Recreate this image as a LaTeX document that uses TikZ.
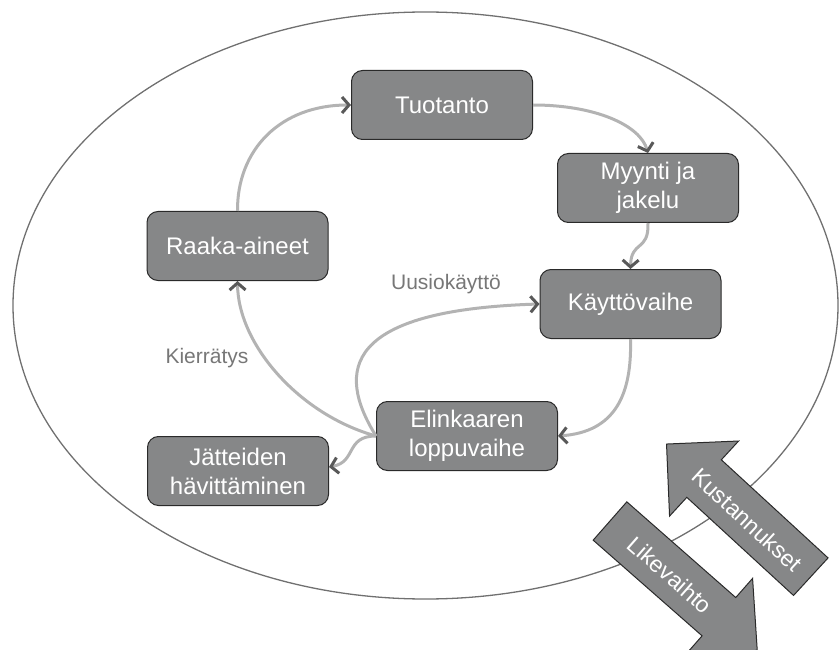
\documentclass[tikz,border=0pt]{standalone}
\usepackage{fontspec}
\setmainfont{Liberation Sans}
\usetikzlibrary{arrows.meta}
\definecolor{boxfill}{HTML}{868788}
\definecolor{boxline}{HTML}{2A2A2A}
\definecolor{flowline}{HTML}{B3B3B3}
\definecolor{flowtip}{HTML}{595959}
\definecolor{rimline}{HTML}{707070}
\definecolor{labeltext}{HTML}{777777}
\begin{document}
\begin{tikzpicture}[x=1pt,y=-1pt,
  stage/.style={draw=boxline, line width=1pt, fill=boxfill, rounded corners=11pt,
    minimum width=181pt, minimum height=69pt, inner sep=0pt, align=center,
    text=white, font=\fontsize{24}{29}\selectfont},
  flow/.style={draw=flowline, line width=3pt,
    -{Straight Barb[length=7pt,width=16pt,color=flowtip]}},
  flowlabel/.style={text=labeltext, font=\fontsize{21}{25}\selectfont},
  bigarrow/.style={draw=boxline, line width=1pt, fill=boxfill},
  arrowtext/.style={text=white, font=\fontsize{23}{27}\selectfont}]

\useasboundingbox (0,0) rectangle (839,650);

% outer boundary
\draw[rimline, line width=1.3pt] (425.5,305.5) ellipse [x radius=412.5pt, y radius=293.5pt];

% life-cycle stages
\node[stage] (tuot) at (442,105)   {Tuotanto};
\node[stage] (myyn) at (648,188)   {Myynti ja\\jakelu};
\node[stage] (kayt) at (630.5,304) {Käyttövaihe};
\node[stage] (elin) at (467,436)   {Elinkaaren\\loppuvaihe};
\node[stage] (jatt) at (238,471)   {Jätteiden\\hävittäminen};
\node[stage] (raak) at (237.5,246) {Raaka-aineet};

% flows between stages
\draw[flow] (raak.north) .. controls (237,150) and (280,105) .. (tuot.west);
\draw[flow] (tuot.east) .. controls (595,105) and (640,125) .. (myyn.north);
\draw[flow] (myyn.south) .. controls (649,252) and (631,240) .. (kayt.north);
\draw[flow] (kayt.south) .. controls (632,395) and (615,432) .. (elin.east);
\draw[flow] (elin.west) .. controls (335,370) and (345,310) .. (kayt.west);
\draw[flow] (elin.west) .. controls (300,415) and (238,345) .. (raak.south);
\draw[flow] (elin.west) .. controls (345,436) and (357,462) .. ([yshift=4pt]jatt.east);

% flow labels
\node[flowlabel] (uusi) at (446,284) {Uusiokäyttö};
\node[flowlabel] (kier) at (207,358) {Kierrätys};

% money flows
\begin{scope}[shift={(810.8,576.7)}, rotate=137.4]
  \draw[bigarrow] (0,-25.5) -- (145,-25.5) -- (145,-51) -- (196,0)
    -- (145,51) -- (145,25.5) -- (0,25.5) -- cycle;
\end{scope}
\begin{scope}[shift={(610,521)}, rotate=-41.3]
  \draw[bigarrow] (0,-25.5) -- (145,-25.5) -- (145,-51) -- (196,0)
    -- (145,51) -- (145,25.5) -- (0,25.5) -- cycle;
\end{scope}
\node[arrowtext, rotate=-42.6] (kust) at (747,520) {Kustannukset};
\node[arrowtext, rotate=-41.3] (like) at (670,575) {Likevaihto};
\end{tikzpicture}
\end{document}
